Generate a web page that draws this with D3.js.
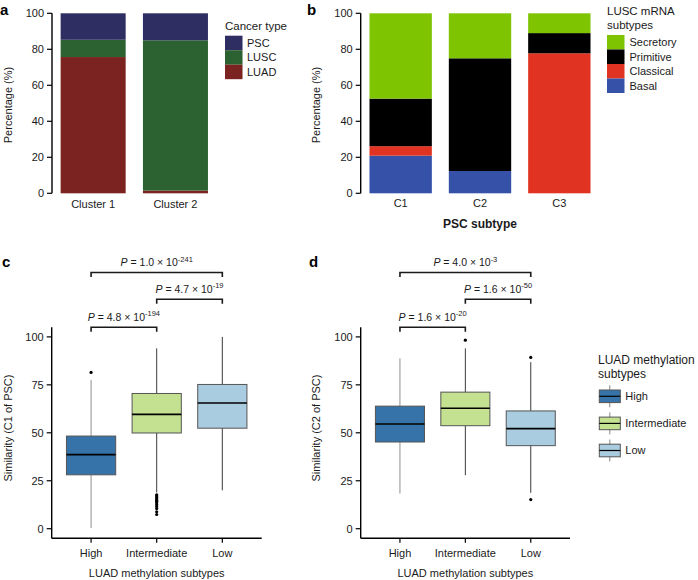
<!DOCTYPE html>
<html><head><meta charset="utf-8">
<script src="https://cdnjs.cloudflare.com/ajax/libs/d3/7.8.5/d3.min.js"></script>
<style>
body{margin:0;background:#fff;}
svg{font-family:"Liberation Sans",Arial,Helvetica,sans-serif;}
</style></head>
<body>
<svg id="c" width="698" height="580"></svg>
<script>
// ---- Data ----
const clusters = ["Cluster 1", "Cluster 2"];
const cancerTypes = ["LUAD", "LUSC", "PSC"];
const luadPct = [75.7, 1.5];
const luscPct = [9.6, 83.5];
const pscPct = [14.7, 15.0];
const cancerColors = ["#7b2320", "#2c6131", "#2e2e62"];

const pscSubtypes = ["C1", "C2", "C3"];
const mrnaTypes = ["Basal", "Classical", "Primitive", "Secretory"];
const basalPct = [20.9, 12.4, 0];
const classicalPct = [5.3, 0, 77.8];
const primitivePct = [26.4, 62.6, 11.2];
const secretoryPct = [47.4, 25.0, 11.0];
const mrnaColors = ["#3651a8", "#e03322", "#000000", "#7ec400"];

const methCats = ["High", "Intermediate", "Low"];
const methColors = ["#3573a8", "#c3e191", "#a9cce0"];
// box stats: [lowerWhisker, q1, median, q3, upperWhisker]
const c1Stats = [[0.3, 28.1, 38.6, 48.3, 77.5], [18.9, 49.9, 59.6, 70.5, 94.0], [20.0, 52.4, 65.5, 75.2, 100]];
const c1Outliers = [[81.5], [17.7, 17.0, 16.3, 15.6, 14.9, 14.2, 13.5, 12.6, 11.6, 10.5, 8.8, 7.4], []];
const c2Stats = [[18.3, 45.2, 54.6, 63.9, 88.8], [27.9, 53.7, 62.8, 71.2, 94.0], [18.7, 43.3, 52.2, 61.4, 86.8]];
const c2Outliers = [[], [98.3], [89.3, 15.2]];
const c1P = [["1.0", "-241"], ["4.7", "-19"], ["4.8", "-194"]];
const c2P = [["4.0", "-3"], ["1.6", "-50"], ["1.6", "-20"]];
const pPairs = [[0, 2], [1, 2], [0, 1]];
const pctTicks = [0, 20, 40, 60, 80, 100];
const simTicks = [0, 25, 50, 75, 100];

const svg = d3.select("#c");
const TXT = "#1a1a1a";

function panelLabel(t, x, y) {
  svg.append("text").attr("x", x).attr("y", y).attr("font-size", 15).attr("font-weight", "bold").attr("fill", "#000").text(t);
}

function yAxis(scale, x, ticks, y0, y1) {
  const g = svg.append("g");
  g.append("line").attr("x1", x).attr("x2", x).attr("y1", y0).attr("y2", y1).attr("stroke", "#000").attr("stroke-width", 1.4);
  ticks.forEach(t => {
    g.append("line").attr("x1", x - 5).attr("x2", x).attr("y1", scale(t)).attr("y2", scale(t)).attr("stroke", "#000").attr("stroke-width", 1.2);
    g.append("text").attr("x", x - 8).attr("y", scale(t)).attr("dy", "0.35em").attr("text-anchor", "end").attr("font-size", 11).attr("fill", TXT).text(t);
  });
}

function rotTitle(t, x, y, fs) {
  svg.append("text").attr("transform", `translate(${x},${y}) rotate(-90)`).attr("text-anchor", "middle").attr("dy", "0.35em").attr("font-size", fs || 11).attr("fill", TXT).text(t);
}

// ---------- Panel a ----------
{
  const y = d3.scaleLinear().domain([0, 100]).range([193.3, 13.3]);
  const x = d3.scaleBand().domain(clusters).range([52, 216.6]);
  const bw = x.bandwidth() * 0.79;
  const series = [luadPct, luscPct, pscPct];
  clusters.forEach((c, i) => {
    let cum = 0;
    series.forEach((s, k) => {
      const v = s[i];
      if (v > 0) {
        svg.append("rect").attr("x", x(c) + x.bandwidth() / 2 - bw / 2).attr("width", bw)
          .attr("y", y(cum + v)).attr("height", y(cum) - y(cum + v)).attr("fill", cancerColors[k]);
      }
      cum += v;
    });
    svg.append("text").attr("x", x(c) + x.bandwidth() / 2).attr("y", 204.5).attr("dy", "0.35em").attr("text-anchor", "middle").attr("font-size", 11).attr("fill", TXT).text(c);
  });
  yAxis(y, 52, pctTicks, 13.3, 193.3);
  rotTitle("Percentage (%)", 8, 105);
  panelLabel("a", 0, 15);
  // legend
  svg.append("text").attr("x", 225).attr("y", 26).attr("dy", "0.35em").attr("font-size", 11.5).attr("fill", TXT).text("Cancer type");
  const order = [2, 1, 0];
  order.forEach((k, j) => {
    const yy = 35.7 + j * 14.5;
    svg.append("rect").attr("x", 225).attr("y", yy).attr("width", 17.5).attr("height", 14.5).attr("fill", cancerColors[k]);
    svg.append("text").attr("x", 247).attr("y", yy + 7.25).attr("dy", "0.35em").attr("font-size", 11).attr("fill", TXT).text(cancerTypes[k]);
  });
}

// ---------- Panel b ----------
{
  const y = d3.scaleLinear().domain([0, 100]).range([193.3, 13.3]);
  const x = d3.scaleBand().domain(pscSubtypes).range([361, 599]);
  const bw = x.bandwidth() * 0.786;
  const series = [basalPct, classicalPct, primitivePct, secretoryPct];
  pscSubtypes.forEach((c, i) => {
    let cum = 0;
    series.forEach((s, k) => {
      const v = s[i];
      if (v > 0) {
        svg.append("rect").attr("x", x(c) + x.bandwidth() / 2 - bw / 2).attr("width", bw)
          .attr("y", y(cum + v)).attr("height", y(cum) - y(cum + v)).attr("fill", mrnaColors[k]);
      }
      cum += v;
    });
    svg.append("text").attr("x", x(c) + x.bandwidth() / 2).attr("y", 203.5).attr("dy", "0.35em").attr("text-anchor", "middle").attr("font-size", 11).attr("fill", TXT).text(c);
  });
  yAxis(y, 360.7, pctTicks, 13.3, 193.3);
  rotTitle("Percentage (%)", 316, 105);
  svg.append("text").attr("x", 480).attr("y", 224).attr("dy", "0.35em").attr("text-anchor", "middle").attr("font-size", 12).attr("font-weight", "bold").attr("fill", TXT).text("PSC subtype");
  panelLabel("b", 307, 15);
  svg.append("text").attr("x", 607).attr("y", 10.5).attr("dy", "0.35em").attr("font-size", 11.5).attr("fill", TXT).text("LUSC mRNA");
  svg.append("text").attr("x", 607).attr("y", 25).attr("dy", "0.35em").attr("font-size", 11.5).attr("fill", TXT).text("subtypes");
  const order = [3, 2, 1, 0];
  order.forEach((k, j) => {
    const yy = 35 + j * 14.5;
    svg.append("rect").attr("x", 607).attr("y", yy).attr("width", 17.5).attr("height", 14.5).attr("fill", mrnaColors[k]);
    svg.append("text").attr("x", 629.5).attr("y", yy + 7.25).attr("dy", "0.35em").attr("font-size", 11).attr("fill", TXT).text(mrnaTypes[k]);
  });
}

// ---------- Box panels ----------
function pText(g, x, y, val, exp) {
  const t = g.append("text").attr("x", x).attr("y", y).attr("text-anchor", "middle").attr("font-size", 10.5).attr("fill", TXT);
  t.append("tspan").attr("font-style", "italic").text("P");
  t.append("tspan").text(` = ${val} \u00d7 10`);
  t.append("tspan").attr("font-size", 7.5).attr("dy", -4.5).text(exp);
}

function boxPanel(x0, x1, stats, outliers, pvals, ytitle, ytitleX, label, labelX) {
  const y = d3.scaleLinear().domain([-5, 105]).range([538.3, 327.3]);
  const x = d3.scalePoint().domain(methCats).range([x0, x1]).padding(0.6);
  const step = x.step();
  const bw = step * 0.75;
  const g = svg.append("g");
  methCats.forEach((c, i) => {
    const s = stats[i];
    const cx = x(c);
    const wcol = i === 0 ? "#8f8f8f" : "#3a3a3a";
    g.append("line").attr("x1", cx).attr("x2", cx).attr("y1", y(s[0])).attr("y2", y(s[1])).attr("stroke", wcol).attr("stroke-width", 1);
    g.append("line").attr("x1", cx).attr("x2", cx).attr("y1", y(s[3])).attr("y2", y(s[4])).attr("stroke", wcol).attr("stroke-width", 1);
    g.append("rect").attr("x", cx - bw / 2).attr("width", bw).attr("y", y(s[3])).attr("height", y(s[1]) - y(s[3]))
      .attr("fill", methColors[i]).attr("stroke", "#555").attr("stroke-width", 1);
    g.append("line").attr("x1", cx - bw / 2).attr("x2", cx + bw / 2).attr("y1", y(s[2])).attr("y2", y(s[2])).attr("stroke", "#000").attr("stroke-width", 1.6);
    outliers[i].forEach(o => {
      g.append("circle").attr("cx", cx).attr("cy", y(o)).attr("r", 1.6).attr("fill", "#000");
    });
    g.append("line").attr("x1", cx).attr("x2", cx).attr("y1", 538.3).attr("y2", 542.8).attr("stroke", "#000").attr("stroke-width", 1.2);
    g.append("text").attr("x", cx).attr("y", 553.3).attr("dy", "0.35em").attr("text-anchor", "middle").attr("font-size", 11).attr("fill", TXT).text(c);
  });
  g.append("line").attr("x1", x0).attr("x2", x1).attr("y1", 538.3).attr("y2", 538.3).attr("stroke", "#000").attr("stroke-width", 1.4);
  yAxis(y, x0, simTicks, 327.3, 538.3);
  rotTitle(ytitle, ytitleX, 428);
  g.append("text").attr("x", (x0 + x1) / 2).attr("y", 573).attr("dy", "0.35em").attr("text-anchor", "middle").attr("font-size", 11).attr("fill", TXT).text("LUAD methylation subtypes");
  const by = [272.5, 299.3, 327.3];
  pPairs.forEach((p, j) => {
    const xa = x(methCats[p[0]]), xb = x(methCats[p[1]]);
    g.append("path").attr("d", `M${xa},${by[j] + 4.5}V${by[j]}H${xb}V${by[j] + 4.5}`).attr("fill", "none").attr("stroke", "#1a1a1a").attr("stroke-width", 1.6);
    pText(g, (xa + xb) / 2, by[j] - 6.5, pvals[j][0], pvals[j][1]);
  });
  panelLabel(label, labelX, 267);
}

boxPanel(51.7, 261.7, c1Stats, c1Outliers, c1P, "Similarity (C1 of PSC)", 8.5, "c", 2);
boxPanel(360.7, 570, c2Stats, c2Outliers, c2P, "Similarity (C2 of PSC)", 316, "d", 309);

// legend for box panels
{
  svg.append("text").attr("x", 598).attr("y", 359.3).attr("dy", "0.35em").attr("font-size", 12).attr("fill", TXT).text("LUAD methylation");
  svg.append("text").attr("x", 598).attr("y", 373.8).attr("dy", "0.35em").attr("font-size", 12).attr("fill", TXT).text("subtypes");
  methCats.forEach((c, i) => {
    const cy = 396.3 + i * 27.1;
    const kx = 599.3, kw = 21;
    svg.append("line").attr("x1", kx + kw / 2).attr("x2", kx + kw / 2).attr("y1", cy - 11).attr("y2", cy + 11).attr("stroke", "#888").attr("stroke-width", 1);
    svg.append("rect").attr("x", kx).attr("y", cy - 6.3).attr("width", kw).attr("height", 12.6).attr("fill", methColors[i]).attr("stroke", "#555").attr("stroke-width", 1);
    svg.append("line").attr("x1", kx).attr("x2", kx + kw).attr("y1", cy).attr("y2", cy).attr("stroke", "#000").attr("stroke-width", 1.2);
    svg.append("text").attr("x", 625.3).attr("y", cy).attr("dy", "0.35em").attr("font-size", 11).attr("fill", TXT).text(c);
  });
}
</script>
</body></html>
